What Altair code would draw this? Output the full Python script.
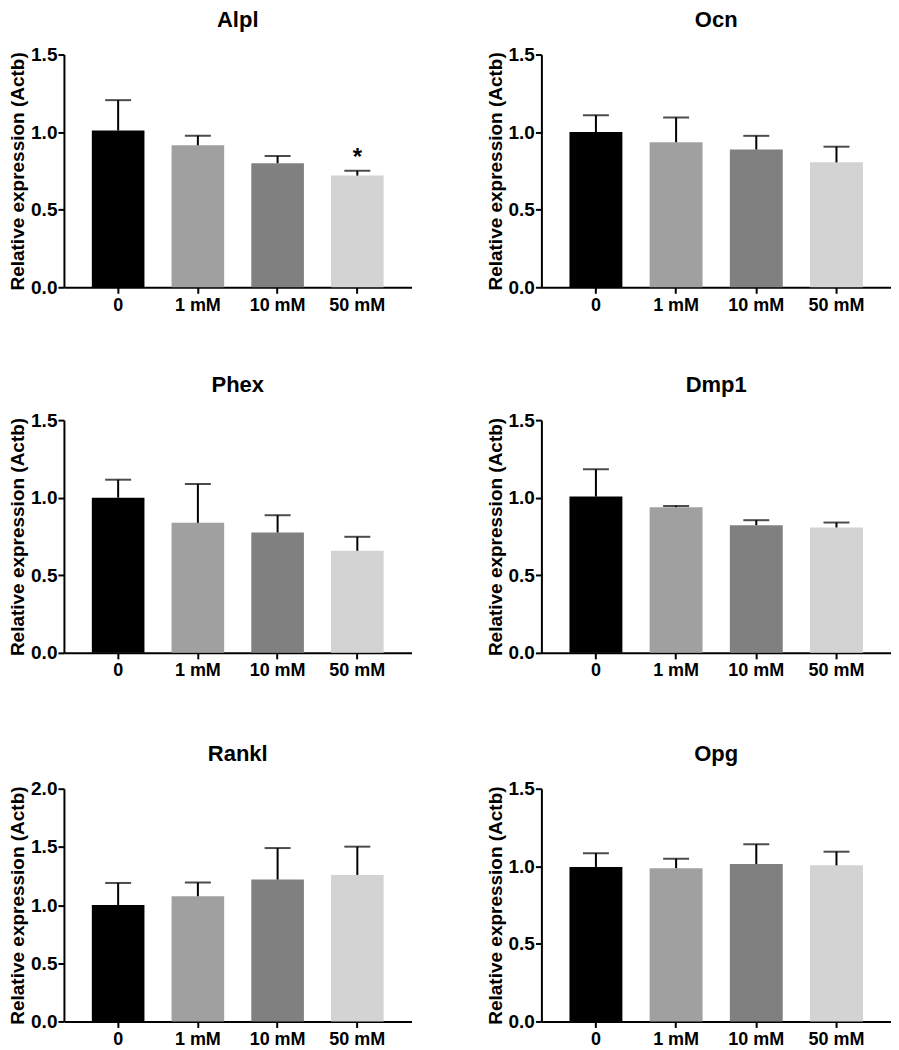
import altair as alt
import pandas as pd

groups = ["0", "1 mM", "10 mM", "50 mM"]
colors = ["#000000", "#a0a0a0", "#808080", "#d3d3d3"]

genes = ["Alpl", "Ocn", "Phex", "Dmp1", "Rankl", "Opg"]
means = {
    "Alpl":  [1.01, 0.915, 0.80, 0.72],
    "Ocn":   [1.00, 0.935, 0.888, 0.805],
    "Phex":  [1.00, 0.838, 0.776, 0.658],
    "Dmp1":  [1.007, 0.939, 0.823, 0.808],
    "Rankl": [1.00, 1.076, 1.219, 1.259],
    "Opg":   [0.996, 0.988, 1.015, 1.006],
}
uppers = {
    "Alpl":  [1.206, 0.977, 0.846, 0.751],
    "Ocn":   [1.109, 1.094, 0.976, 0.906],
    "Phex":  [1.116, 1.089, 0.887, 0.748],
    "Dmp1":  [1.183, 0.947, 0.855, 0.840],
    "Rankl": [1.19, 1.193, 1.49, 1.502],
    "Opg":   [1.084, 1.049, 1.142, 1.094],
}
ymax = {"Alpl": 1.5, "Ocn": 1.5, "Phex": 1.5, "Dmp1": 1.5, "Rankl": 2.0, "Opg": 1.5}
stars = {"Alpl": ["", "", "", "*"]}

FONT = "Liberation Sans"
W, H = 348, 233


def panel(gene, width):
    df = pd.DataFrame({
        "group": groups,
        "mean": means[gene],
        "upper": uppers[gene],
        "star": stars.get(gene, ["", "", "", ""]),
    })
    top = ymax[gene]
    ticks = [round(0.5 * i, 1) for i in range(int(top / 0.5) + 1)]
    x = alt.X("group:N", sort=groups, title=None,
              scale=alt.Scale(paddingInner=0.34, paddingOuter=0.35),
              axis=alt.Axis(labelAngle=0, labelFont=FONT, labelFontSize=18,
                            labelFontWeight="bold", labelColor="black",
                            domainColor="black", domainWidth=2,
                            tickColor="black", tickWidth=2, tickSize=6,
                            labelPadding=3))
    y_axis = alt.Axis(values=ticks, format=".1f", grid=False,
                      title="Relative expression (Actb)",
                      titleFont=FONT, titleFontSize=19, titleFontWeight="bold",
                      titleColor="black", titlePadding=3,
                      labelFont=FONT, labelFontSize=19, labelFontWeight="bold",
                      labelColor="black", labelPadding=1,
                      domainColor="black", domainWidth=2,
                      tickColor="black", tickWidth=2, tickSize=6)
    base = alt.Chart(df)
    bars = base.mark_bar().encode(
        x=x,
        y=alt.Y("mean:Q", scale=alt.Scale(domain=[0, top], nice=False), axis=y_axis),
        color=alt.Color("group:N", scale=alt.Scale(domain=groups, range=colors), legend=None),
    )
    rule = base.mark_rule(color="black", strokeWidth=2).encode(
        x=alt.X("group:N", sort=groups),
        y="mean:Q",
        y2="upper:Q",
    )
    cap = base.mark_tick(color="black", thickness=2, size=26, orient="horizontal").encode(
        x=alt.X("group:N", sort=groups),
        y="upper:Q",
    )
    star = base.mark_text(font=FONT, fontSize=24, fontWeight="bold", color="black",
                          baseline="bottom", dy=-1).encode(
        x=alt.X("group:N", sort=groups),
        y="upper:Q",
        text="star:N",
    )
    return alt.layer(bars, rule, cap, star).properties(
        width=width, height=H,
        title=alt.TitleParams(gene, font=FONT, fontSize=22, fontWeight="bold",
                              color="black", offset=14, anchor="middle"),
    )


rows = []
for i in range(0, 6, 2):
    rows.append(alt.hconcat(panel(genes[i], W), panel(genes[i + 1], 350), spacing=74))

upper_rows = alt.vconcat(rows[0], rows[1], spacing=60)
chart = alt.vconcat(upper_rows, rows[2], spacing=63).properties(
    padding={"left": 0, "top": 0, "right": 0, "bottom": 0},
    background="white",
).configure_view(stroke="transparent", strokeWidth=0)

chart.save("out.html", embed_options={"renderer": "svg", "actions": False})
